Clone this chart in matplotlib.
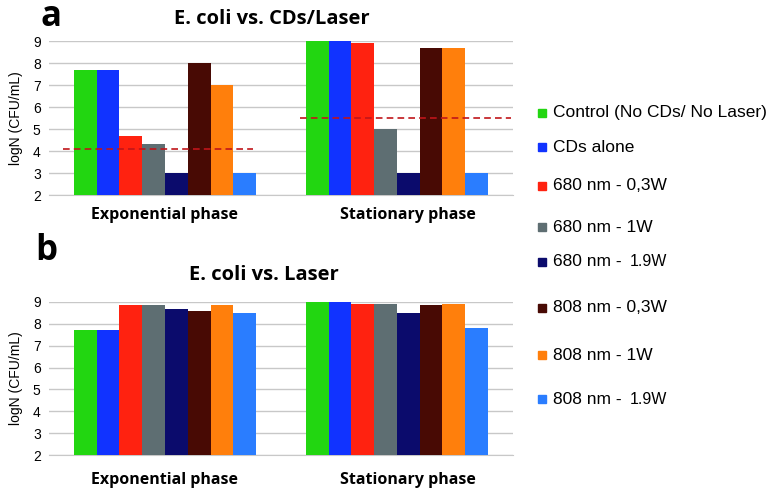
#!/usr/bin/env python
# -*- coding: utf-8 -*-
import numpy as np
import matplotlib
matplotlib.use('Agg')
import matplotlib.pyplot as plt
import matplotlib.transforms as mtrans
from matplotlib.patches import Rectangle

# data
phases = ['Exponential phase', 'Stationary phase']
series = ['Control (No CDs/ No Laser)', 'CDs alone',
          '680 nm - 0,3W', '680 nm - 1W', '680 nm - 1.9W',
          '808 nm - 0,3W', '808 nm - 1W', '808 nm - 1.9W']
colors = ['#22d611', '#1133ff', '#ff2210', '#5e6e72',
          '#0b0b6c', '#480a04', '#ff7f0c', '#2a7dff']

# panel a: E. coli vs. CDs/Laser
cds_laser_exp = [7.7, 7.7, 4.7, 4.3, 3.0, 8.0, 7.0, 3.0]
cds_laser_stat = [9.0, 9.0, 8.9, 5.0, 3.0, 8.7, 8.7, 3.0]
threshold_a = [4.1, 5.5]

# panel b: E. coli vs. Laser
laser_exp = [7.7, 7.7, 8.85, 8.85, 8.7, 8.6, 8.85, 8.5]
laser_stat = [9.0, 9.0, 8.9, 8.9, 8.5, 8.85, 8.9, 7.8]

yticks = [2, 3, 4, 5, 6, 7, 8, 9]

# legend rows (pixels from top), layout only
legend_rows = [113, 147, 186, 227, 262, 308, 355, 399]

W, H = 783, 490
plt.rcParams['font.family'] = ['Liberation Sans', 'DejaVu Sans']
BOLD = ['Open Sans', 'DejaVu Sans']


def draw_panel(fig, ax, exp_vals, stat_vals, label_gap, group_w=0.785):
    n = len(series)
    w = group_w / n
    x = np.arange(len(phases))
    for i in range(n):
        vals = np.array([exp_vals[i], stat_vals[i]])
        ax.bar(x - group_w / 2 + w * (i + 0.5), vals - 2, width=w, bottom=2,
               color=colors[i], edgecolor='none', zorder=3)
    ax.set_xlim(-0.5, 1.5)
    ax.set_ylim(2, 9)
    ax.set_yticks(yticks)
    ax.set_xticks([])
    # category labels; the stationary one sits a bit right of its group
    shifts = [0, 11]
    for xi, name, dx in zip(x, phases, shifts):
        tr = ax.get_xaxis_transform() + mtrans.ScaledTranslation(
            dx / 100, -label_gap / 100, fig.dpi_scale_trans)
        ax.text(xi, 0, name, transform=tr, ha='center', va='top',
                family=BOLD, fontweight='bold', fontsize=11.5)
    ax.tick_params(axis='y', length=0, labelsize=10, pad=6)
    ax.yaxis.grid(True, color='#c8c8c8', lw=1, zorder=0)
    for s in ['top', 'right', 'left']:
        ax.spines[s].set_visible(False)
    ax.spines['bottom'].set_color('#c8c8c8')
    ax.set_ylabel('logN (CFU/mL)', fontsize=10, labelpad=7)


fig = plt.figure(figsize=(W / 100, H / 100), dpi=100)
ax_a = fig.add_axes([0.0626, 0.602, 0.5925, 0.314])
ax_b = fig.add_axes([0.0626, 0.0714, 0.5925, 0.3123])

draw_panel(fig, ax_a, cds_laser_exp, cds_laser_stat, label_gap=12)
draw_panel(fig, ax_b, laser_exp, laser_stat, label_gap=17)

# dashed threshold lines in panel a
ax_a.hlines(threshold_a[0], -0.44, 0.38, colors='#c0151a',
            linestyles=(0, (4, 2.5)), lw=1.2, zorder=4)
ax_a.hlines(threshold_a[1], 0.58, 1.49, colors='#c0151a',
            linestyles=(0, (4, 2.5)), lw=1.2, zorder=4)

ax_a.set_title('E. coli vs. CDs/Laser', family=BOLD, fontweight='bold',
               fontsize=14.5, pad=12, x=0.48)
ax_b.set_title('E. coli vs. Laser', family=BOLD, fontweight='bold',
               fontsize=14.5, pad=16, x=0.463)

fig.text(0.052, 0.965, 'a', family=BOLD, fontweight='bold', fontsize=25,
         va='center')
fig.text(0.045, 0.487, 'b', family=BOLD, fontweight='bold', fontsize=25,
         va='center')

# legend drawn by hand to follow the uneven row spacing of the original
renderer = fig.canvas.get_renderer()
for label, col, row in zip(series, colors, legend_rows):
    yf = 1 - row / H
    fig.add_artist(Rectangle((538 / W, yf - 4 / H), 8 / W, 8 / H,
                             color=col, transform=fig.transFigure))
    if label.endswith('1.9W'):
        head = label[:-4].rstrip()
        t = fig.text(553 / W, yf, head, fontsize=12.5, va='center')
        bb = t.get_window_extent(renderer)
        fig.text(bb.x1 / W + 8 / W, yf, '1.9W', fontsize=11.5, va='center')
    else:
        fig.text(553 / W, yf, label, fontsize=12.5, va='center')

fig.savefig('out.png', dpi=100)
